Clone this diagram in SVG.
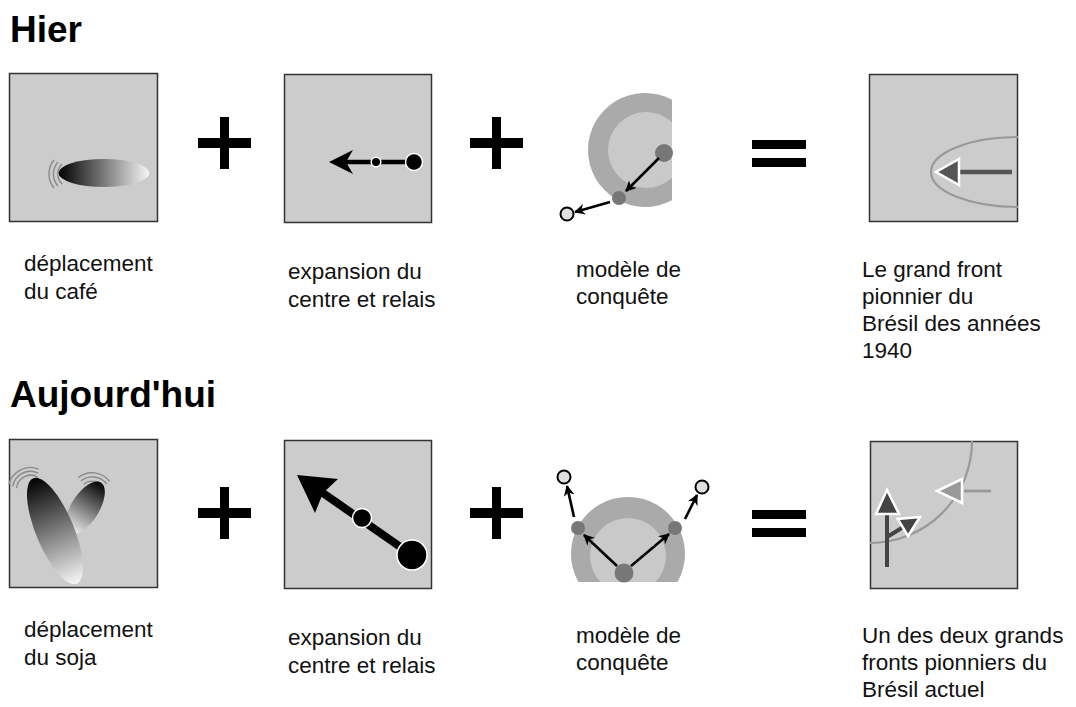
<svg xmlns="http://www.w3.org/2000/svg" width="1076" height="707" viewBox="0 0 1076 707">
  <defs>
    <style>
      .title { font-family: "Liberation Sans", Arial, sans-serif; font-weight: bold; font-size: 37px; fill: #000; }
      .lbl { font-family: "Liberation Sans", Arial, sans-serif; font-size: 22.5px; fill: #111; }
      .box { fill: #cccccc; stroke: #333; stroke-width: 1.5; }
      .op { fill: #000; }
      .ring { fill: #aaaaaa; }
      .core { fill: #c9c9c9; }
      .hub { fill: #777; }
      .relay { fill: #777; }
      .target { fill: #e0e0e0; stroke: #000; stroke-width: 2; }
      .link { stroke: #000; stroke-width: 2.6; fill: none; marker-end: url(#barb); }
      .wave { fill: none; stroke: #8a8a8a; stroke-width: 1.4; }
      .shaft { stroke: #000; fill: none; }
      .dot { fill: #000; stroke: #fff; stroke-width: 1.5; }
    </style>
    <marker id="barb" viewBox="0 0 10 10" refX="9" refY="5" markerWidth="4.2" markerHeight="4.2" orient="auto" markerUnits="strokeWidth">
      <path d="M0,0 L10,5 L0,10 L3,5 Z" fill="#000"/>
    </marker>
    <linearGradient id="gradH" x1="0" y1="0" x2="1" y2="0">
      <stop offset="0" stop-color="#000"/>
      <stop offset="1" stop-color="#f6f6f6"/>
    </linearGradient>
    <linearGradient id="gradR" x1="0" y1="0" x2="1" y2="0">
      <stop offset="0" stop-color="#f8f8f8"/>
      <stop offset="1" stop-color="#000"/>
    </linearGradient>
  </defs>

  <rect width="1076" height="707" fill="#fff"/>

  <text class="title" x="10" y="42">Hier</text>
  <text class="title" x="10" y="407">Aujourd'hui</text>

  <!-- Row 1 : coffee -->
  <g id="cafe">
    <rect class="box" x="9.5" y="73.5" width="148" height="148"/>
    <path class="wave" d="M62,164 A14,14 0 0 0 62,184"/>
    <path class="wave" d="M58,162 A18,18 0 0 0 58,186"/>
    <path class="wave" d="M54,160 A22,22 0 0 0 54,188"/>
    <ellipse cx="104" cy="173" rx="45.5" ry="14" fill="url(#gradH)"/>
    <text class="lbl" x="24" y="271">déplacement</text>
    <text class="lbl" x="24" y="299">du café</text>
  </g>

  <g id="plus1"><rect class="op" x="198" y="138" width="53" height="10"/><rect class="op" x="220" y="117" width="9" height="52"/></g>

  <g id="expansion1">
    <rect class="box" x="284.5" y="74.5" width="147" height="148"/>
    <line class="shaft" x1="344" y1="162" x2="414" y2="162" stroke-width="4.5"/>
    <path d="M329,162 L353,150 L346,162 L353,174 Z" fill="#000"/>
    <circle class="dot" cx="376" cy="162" r="4.8"/>
    <circle class="dot" cx="414" cy="162" r="8.5"/>
    <text class="lbl" x="288" y="279">expansion du</text>
    <text class="lbl" x="288" y="307">centre et relais</text>
  </g>

  <g id="plus2"><rect class="op" x="470" y="138" width="53" height="10"/><rect class="op" x="492" y="117" width="9" height="52"/></g>

  <g id="conquete1">
    <path class="ring" d="M672,99.8 A57,57 0 1 0 672,200.2 Z"/>
    <path class="core" d="M672,122.3 A38,38 0 1 0 672,177.7 Z"/>
    <circle class="hub" cx="664" cy="153" r="9"/>
    <circle class="relay" cx="619" cy="198" r="7"/>
    <circle class="target" cx="567" cy="214" r="6.5"/>
    <text class="lbl" x="576" y="277">modèle de</text>
    <text class="lbl" x="576" y="304">conquête</text>
  </g>

  <g id="egal1"><rect class="op" x="752" y="140" width="54" height="9"/><rect class="op" x="752" y="158" width="54" height="9"/></g>

  <g id="front1">
    <rect class="box" x="869.5" y="74.5" width="148" height="147"/>
    <path d="M1018,137 A87,35 0 0 0 1018,207" fill="none" stroke="#999" stroke-width="2.2"/>
    <line x1="1012" y1="172" x2="957" y2="172" stroke="#555" stroke-width="4.5"/>
    <polygon points="936,172 959,159 959,185" fill="#555" stroke="#fff" stroke-width="2.5"/>
    <text class="lbl" x="862" y="277">Le grand front</text>
    <text class="lbl" x="862" y="304">pionnier du</text>
    <text class="lbl" x="862" y="331">Brésil des années</text>
    <text class="lbl" x="862" y="358">1940</text>
  </g>

  <!-- Row 2 : soy -->
  <g id="soja">
    <rect class="box" x="9.5" y="439.5" width="148" height="148"/>
    <g transform="translate(36,491)">
      <path class="wave" d="M-18.8,-5.5 A14,14 0 0 1 3.6,-13.5" transform="rotate(-8)"/>
      <path class="wave" d="M-22.4,-7.8 A18,18 0 0 1 4.6,-17.4" transform="rotate(-8)"/>
      <path class="wave" d="M-26,-10 A22,22 0 0 1 5.6,-21.3" transform="rotate(-8)"/>
    </g>
    <g transform="translate(93,496)">
      <path class="wave" d="M-9,-12 A14,14 0 0 1 11,-9" transform="rotate(-2)"/>
      <path class="wave" d="M-11.5,-15.5 A18,18 0 0 1 14,-11.5" transform="rotate(-2)"/>
      <path class="wave" d="M-14,-19 A22,22 0 0 1 17,-14" transform="rotate(-2)"/>
    </g>
    <ellipse cx="0" cy="0" rx="30" ry="14" fill="url(#gradR)" transform="translate(85,508) rotate(-58)"/>
    <ellipse cx="0" cy="0" rx="57" ry="19" fill="url(#gradH)" transform="translate(55,531) rotate(67.5)"/>
    <text class="lbl" x="24" y="637">déplacement</text>
    <text class="lbl" x="24" y="665">du soja</text>
  </g>

  <g id="plus3"><rect class="op" x="198" y="508" width="53" height="10"/><rect class="op" x="220" y="487" width="9" height="52"/></g>

  <g id="expansion2">
    <rect class="box" x="284.5" y="440.5" width="147" height="148"/>
    <line class="shaft" x1="412" y1="555" x2="320" y2="491" stroke-width="8"/>
    <path d="M297,475 L338,479 L323,493 L315,513 Z" fill="#000"/>
    <circle class="dot" cx="362" cy="518" r="9.5"/>
    <circle class="dot" cx="412" cy="555" r="15"/>
    <text class="lbl" x="288" y="645">expansion du</text>
    <text class="lbl" x="288" y="673">centre et relais</text>
  </g>

  <g id="plus4"><rect class="op" x="470" y="508" width="53" height="10"/><rect class="op" x="492" y="487" width="9" height="52"/></g>

  <g id="conquete2">
    <path class="ring" d="M578.4,582 A57,57 0 1 1 677.6,582 Z"/>
    <path class="core" d="M600.3,582 A38,38 0 1 1 655.7,582 Z"/>
    <circle class="hub" cx="624" cy="573" r="9.5"/>
    <circle class="relay" cx="578" cy="528" r="7"/>
    <circle class="relay" cx="675" cy="528" r="7"/>
    <circle class="target" cx="564" cy="477" r="6.5"/>
    <circle class="target" cx="702" cy="487" r="6.5"/>
    <text class="lbl" x="576" y="643">modèle de</text>
    <text class="lbl" x="576" y="670">conquête</text>
  </g>

  <g id="egal2"><rect class="op" x="752" y="510" width="54" height="9"/><rect class="op" x="752" y="528" width="54" height="9"/></g>

  <g id="front2">
    <rect class="box" x="870.5" y="441.5" width="147" height="147"/>
    <path d="M972,441 A102,102 0 0 1 870,543" fill="none" stroke="#999" stroke-width="2.2"/>
    <line x1="964" y1="491" x2="991" y2="491" stroke="#999" stroke-width="2.8"/>
    <polygon points="937,491 962,479 962,503" fill="#999" stroke="#fff" stroke-width="2.5"/>
    <line x1="887" y1="567" x2="887" y2="511" stroke="#444" stroke-width="4"/>
    <line x1="887" y1="537" x2="905" y2="526" stroke="#444" stroke-width="4"/>
    <polygon points="887,490 876,514 899,514" fill="#444" stroke="#fff" stroke-width="2.5"/>
    <polygon points="920,517 897.7,518.9 908,536" fill="#444" stroke="#fff" stroke-width="2.5"/>
    <text class="lbl" x="862" y="643">Un des deux grands</text>
    <text class="lbl" x="862" y="670">fronts pionniers du</text>
    <text class="lbl" x="862" y="697">Brésil actuel</text>
  </g>

  <!-- conquest connectors -->
  <g id="connectors">
    <line class="link" x1="659" y1="158" x2="626" y2="191"/>
    <line class="link" x1="610" y1="202" x2="575" y2="212"/>
    <line class="link" x1="617" y1="566" x2="584" y2="535"/>
    <line class="link" x1="631" y1="566" x2="669" y2="534"/>
    <line class="link" x1="574" y1="517" x2="567" y2="486"/>
    <line class="link" x1="685" y1="519" x2="697" y2="495"/>
  </g>
</svg>
